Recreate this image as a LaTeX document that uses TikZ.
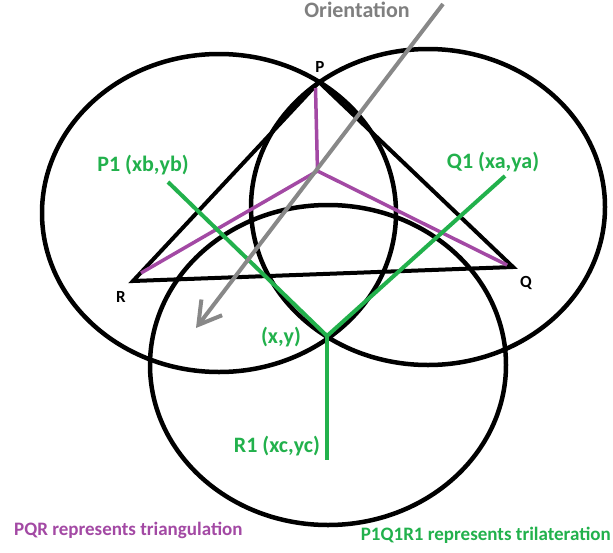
\documentclass[tikz,border=0pt]{standalone}
\usepackage{fontspec}
\setmainfont{Carlito}
\usetikzlibrary{arrows.meta}
\definecolor{pgreen}{HTML}{22B14C}
\definecolor{ppurple}{HTML}{A349A4}
\definecolor{pgray}{HTML}{888888}
\definecolor{tgray}{HTML}{7F7F7F}
\tikzset{
  ring/.style={draw=black,line width=4.5pt},
  tri/.style={draw=black,line width=4pt,line join=miter},
  purp/.style={draw=ppurple,line width=3.5pt},
  grn/.style={draw=pgreen,line width=4pt},
  lbl/.style={font=\bfseries\fontsize{22}{26}\selectfont,inner sep=0pt},
  blbl/.style={font=\bfseries\fontsize{19}{23}\selectfont,inner sep=0pt},
  vlbl/.style={font=\bfseries\fontsize{17}{19}\selectfont,inner sep=0pt,text=black},
}
\begin{document}
\begin{tikzpicture}[x=1pt,y=-1pt]
\fill[white] (0,0) rectangle (613,552);
\useasboundingbox (0,0) rectangle (613,552);
% circles
\draw[ring] (219,213) ellipse [x radius=177pt,y radius=159pt];
\draw[ring] (428,207) ellipse [x radius=177pt,y radius=158pt];
\draw[ring] (328,365) ellipse [x radius=178pt,y radius=160pt];
% triangle
\coordinate (P) at (319,82);
\coordinate (Q) at (513,267);
\coordinate (R) at (133,281);
\draw[tri] (P) -- (Q) -- (R) -- cycle;
% purple
\coordinate (C) at (317.5,171);
\coordinate (Pp) at (315.5,88);
\coordinate (Rp) at (141,273);
\coordinate (Qp) at (507,265);
\draw[purp] (C) -- (Pp);
\draw[purp] (C) -- (Rp);
\draw[purp] (C) -- (Qp);
% green
\coordinate (X) at (327,336);
\coordinate (P1) at (168,182);
\coordinate (Q1) at (505,176);
\coordinate (R1) at (327,460);
\draw[grn] (P1) -- (X);
\draw[grn] (Q1) -- (X);
\draw[grn] (X) -- (R1);
% orientation arrow
\coordinate (Oa) at (443,4);
\coordinate (Ob) at (196,328);
\draw[pgray,line width=4pt,-{Straight Barb[length=22pt,width=26pt,line width=4pt]}] (Oa) -- (Ob);
% labels
\node[vlbl] (lP) at (320,67) {P};
\node[vlbl] (lQ) at (526,283) {Q};
\node[vlbl] (lR) at (121,297) {R};
\node[lbl,text=pgreen] (tP1) at (143,165) {P1 (xb,yb)};
\node[lbl,text=pgreen] (tQ1) at (493,162) {Q1 (xa,ya)};
\node[lbl,text=pgreen] (tX) at (281,337) {(x,y)};
\node[lbl,text=pgreen] (tR1) at (277,446) {R1 (xc,yc)};
\node[lbl,text=tgray] (tO) at (357,10) {Orientation};
\node[blbl,text=ppurple,anchor=west] (tPQR) at (14,530) {PQR represents triangulation};
\node[blbl,text=pgreen,anchor=east] (tTri) at (611,535) {P1Q1R1 represents trilateration};
\end{tikzpicture}
\end{document}
